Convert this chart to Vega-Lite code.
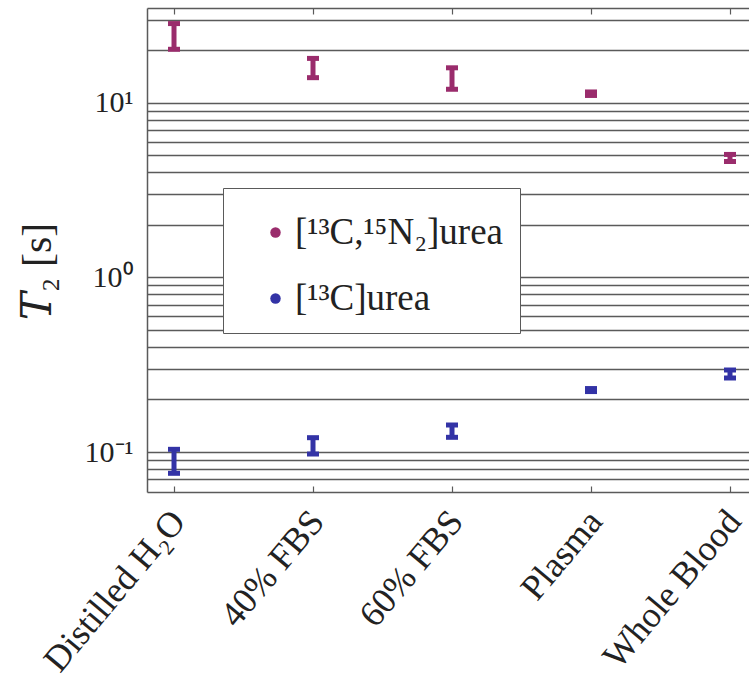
{
  "$schema": "https://vega.github.io/schema/vega-lite/v6.json",
  "width": 602,
  "height": 484,
  "autosize": {"type": "none"},
  "padding": {"left": 147, "top": 8, "right": 0, "bottom": 191},
  "background": "white",
  "config": {"view": {"stroke": null}, "font": "Liberation Serif"},
  "data": {
    "values": [
      {"sample": "Distilled H₂O", "isotope": "[¹³C,¹⁵N₂]urea", "lo": 20.3, "hi": 28.5},
      {"sample": "40% FBS", "isotope": "[¹³C,¹⁵N₂]urea", "lo": 13.96, "hi": 18.0},
      {"sample": "60% FBS", "isotope": "[¹³C,¹⁵N₂]urea", "lo": 11.98, "hi": 15.9},
      {"sample": "Plasma", "isotope": "[¹³C,¹⁵N₂]urea", "lo": 11.04, "hi": 11.56},
      {"sample": "Whole Blood", "isotope": "[¹³C,¹⁵N₂]urea", "lo": 4.62, "hi": 5.07},
      {"sample": "Distilled H₂O", "isotope": "[¹³C]urea", "lo": 0.0755, "hi": 0.1036},
      {"sample": "40% FBS", "isotope": "[¹³C]urea", "lo": 0.0974, "hi": 0.1208},
      {"sample": "60% FBS", "isotope": "[¹³C]urea", "lo": 0.1214, "hi": 0.1428},
      {"sample": "Plasma", "isotope": "[¹³C]urea", "lo": 0.222, "hi": 0.231},
      {"sample": "Whole Blood", "isotope": "[¹³C]urea", "lo": 0.2655, "hi": 0.295}
    ]
  },
  "resolve": {"axis": {"x": "independent"}},
  "layer": [
    {
      "mark": {"type": "rule", "strokeWidth": 5, "opacity": 1},
      "encoding": {
        "x": {
          "field": "sample", "type": "nominal",
          "sort": ["Distilled H₂O", "40% FBS", "60% FBS", "Plasma", "Whole Blood"],
          "scale": {"type": "point", "padding": 0.1655, "align": 0.587},
          "axis": {
            "orient": "bottom", "title": null, "domain": true, "domainColor": "#5a5a5a", "domainWidth": 1.5,
            "ticks": true, "tickSize": -6, "tickColor": "#5a5a5a", "tickWidth": 1.2,
            "labelAngle": -50, "labelAlign": "right", "labelBaseline": "middle",
            "labelFontSize": 36, "labelFont": "Liberation Serif", "labelColor": "#222",
            "labelPadding": 29, "labelOffset": 4, "labelLimit": 0
          }
        },
        "y": {
          "field": "lo", "type": "quantitative",
          "scale": {"type": "log", "domain": [0.059, 35], "nice": false},
          "axis": {
            "values": [0.07, 0.08, 0.09, 0.1, 0.2, 0.3, 0.4, 0.5, 0.6, 0.7, 0.8, 0.9, 1, 2, 3, 4, 5, 6, 7, 8, 9, 10, 20, 30],
            "labelExpr": "datum.value == 10 ? '10¹' : datum.value == 1 ? '10⁰' : datum.value == 0.1 ? '10⁻¹' : ''",
            "grid": true, "gridColor": "#5a5a5a", "gridWidth": 1.4,
            "ticks": false, "domain": true, "domainColor": "#5a5a5a", "domainWidth": 1.5,
            "labelFontSize": 30, "labelFont": "Liberation Serif", "labelColor": "#222", "labelPadding": 14,
            "title": "𝑇₂ [s]", "titleFontSize": 42, "titleFont": "Liberation Serif, DejaVu Serif", "titleFontWeight": "normal",
            "titleColor": "#222", "titleX": -97, "titleY": 263, "titleBaseline": "alphabetic", "titleAlign": "center"
          }
        },
        "y2": {"field": "hi"},
        "color": {
          "field": "isotope", "type": "nominal",
          "scale": {"domain": ["[¹³C,¹⁵N₂]urea", "[¹³C]urea"], "range": ["#9a2c6c", "#3333a6"]},
          "legend": {
            "orient": "none", "legendX": 76, "legendY": 180,
            "title": " ", "titleFontSize": 6, "titlePadding": 4,
            "labelFontSize": 37, "labelFont": "Liberation Serif", "labelColor": "#222", "labelLimit": 0,
            "symbolType": "circle", "symbolSize": 110, "symbolStrokeWidth": 0,
            "padding": 16, "symbolOffset": 18, "labelOffset": 1, "rowPadding": 28,
            "fillColor": "white", "strokeColor": "#5a5a5a",
            "encode": {"symbols": {"update": {"fill": {"scale": "color", "field": "value"}, "opacity": {"value": 1}}}}
          }
        }
      }
    },
    {
      "transform": [{"fold": ["lo", "hi"], "as": ["end", "val"]}],
      "mark": {"type": "tick", "thickness": 5, "size": 12, "opacity": 1},
      "encoding": {
        "x": {"field": "sample", "type": "nominal", "sort": ["Distilled H₂O", "40% FBS", "60% FBS", "Plasma", "Whole Blood"], "axis": null},
        "y": {"field": "val", "type": "quantitative", "axis": {"title": "𝑇₂ [s]"}},
        "color": {"field": "isotope", "type": "nominal", "legend": null}
      }
    },
    {
      "mark": {"type": "point", "opacity": 0},
      "encoding": {
        "x": {
          "field": "sample", "type": "nominal",
          "sort": ["Distilled H₂O", "40% FBS", "60% FBS", "Plasma", "Whole Blood"],
          "axis": {"orient": "top", "title": null, "labels": false, "domain": true, "domainColor": "#5a5a5a", "domainWidth": 1.5,
                   "ticks": true, "tickSize": -6, "tickColor": "#5a5a5a", "tickWidth": 1.2}
        }
      }
    }
  ]
}
